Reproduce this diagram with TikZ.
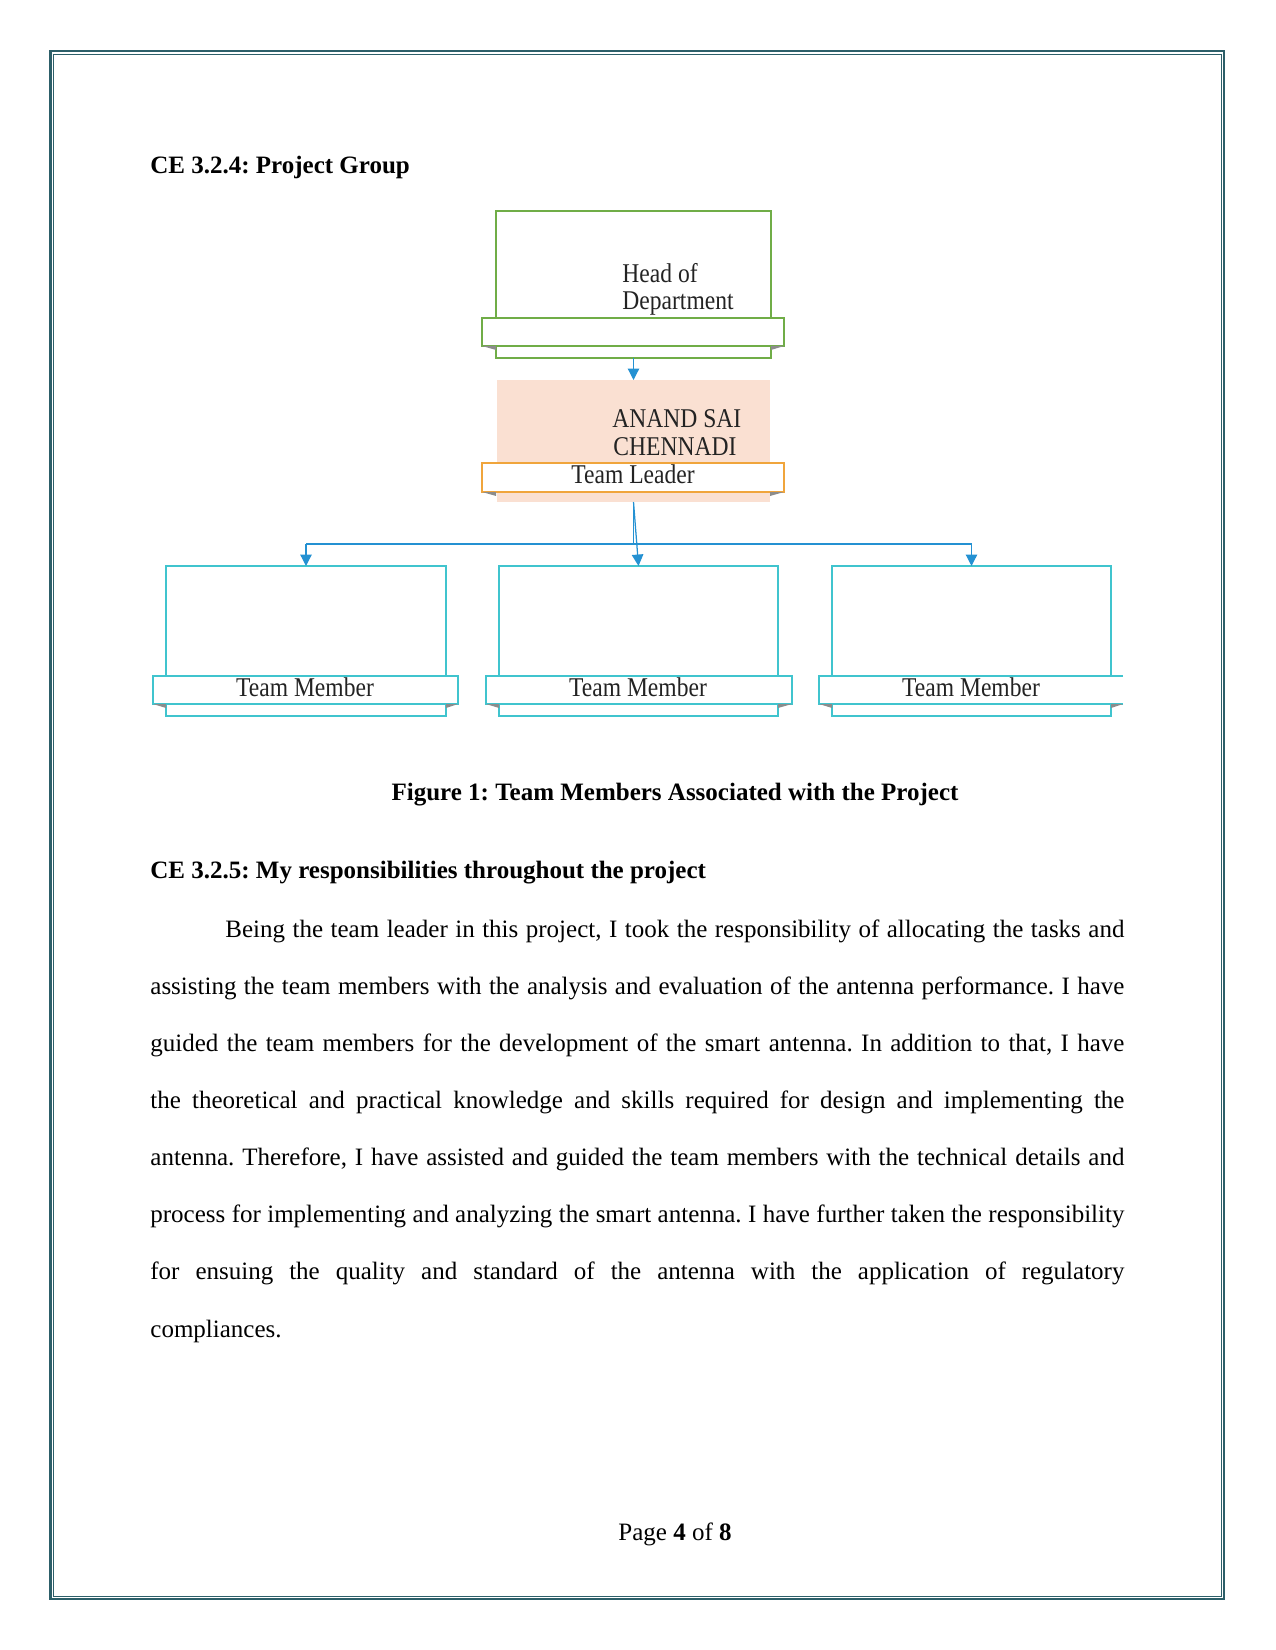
\documentclass[tikz,border=0pt]{standalone}
\usepackage{fontspec}
\setmainfont{Liberation Serif}
\newfontfamily\dgfont[FakeStretch=0.87]{Liberation Serif}
\usetikzlibrary{fit,arrows.meta,calc}
\definecolor{framecol}{RGB}{45,95,105}
\definecolor{hodgreen}{RGB}{112,173,71}
\definecolor{tlorange}{RGB}{240,165,60}
\definecolor{tlpeach}{RGB}{250,224,210}
\definecolor{tmcyan}{RGB}{64,196,206}
\definecolor{arrowblue}{RGB}{36,145,210}
\definecolor{dgtext}{RGB}{35,35,35}
\frenchspacing
\begin{document}
\begin{tikzpicture}[x=0.48pt,y=-0.48pt,
  box/.style={fit={#1}, inner sep=0pt, outer sep=0pt, line width=0.7pt},
  dgt/.style={font=\dgfont\fontsize{13}{13}\selectfont, text=dgtext, inner sep=0pt},
  para/.style={anchor=base west, inner sep=0pt, font=\fontsize{12}{14}\selectfont},
  head/.style={anchor=base west, inner sep=0pt, font=\fontsize{12}{14}\selectfont\bfseries},
  link/.style={draw=arrowblue, line width=0.6pt},
  arr/.style={link, -{Triangle[width=5.5pt,length=5.5pt]}},
  wedge/.style={fill=black!45, draw=none}
]
\useasboundingbox (0,0) rectangle (1275,1650);
% page frame
\draw[framecol, line width=1.1pt] (50.5,51) rectangle (1224,1599);
\draw[framecol, line width=0.45pt] (53.5,54) rectangle (1221,1596);

% headings
\node[head] (h1) at (150,174) {CE 3.2.4: Project Group};

% Head of Department
\node[box={(496,211) (771,318)}, draw=hodgreen] (hod) {};
\node[box={(496,346) (771,358)}, draw=hodgreen] (hodbase) {};
\node[box={(482,318) (784,346)}, draw=hodgreen, fill=white] (hodband) {};
\fill[wedge] (hodband.south west) -- (hodbase.north west) -- ($(hodbase.north west)+(0,4)$) -- cycle;
\fill[wedge] (hodband.south east) -- (hodbase.north east) -- ($(hodbase.north east)+(0,4)$) -- cycle;
\node[dgt, anchor=base west] (hodl1) at (622,283) {Head of};
\node[dgt, anchor=base west] (hodl2) at (622,310) {Department};

% Team leader
\node[box={(497,380) (770,502)}, fill=tlpeach] (tl) {};
\node[box={(482,463) (784,492)}, draw=tlorange, fill=white] (tlband) {};
\fill[wedge] (tlband.south west) -- ($(tlband.south west)+(14,0)$) -- ($(tlband.south west)+(14,4)$) -- cycle;
\fill[wedge] (tlband.south east) -- ($(tlband.south east)+(-14,0)$) -- ($(tlband.south east)+(-14,4)$) -- cycle;
\node[dgt, anchor=base west] (tll1) at (612,428) {ANAND SAI};
\node[dgt, anchor=base west] (tll2) at (613,455) {CHENNADI};
\node[dgt, anchor=base] (tlt) at (633,483) {Team Leader};

% Team members
\foreach \i/\l/\r in {1/166/446, 2/499/778, 3/832/1111}{
  \node[box={(\l,566) (\r,676)}, draw=tmcyan] (tm\i) {};
  \node[box={(\l,704) (\r,716)}, draw=tmcyan] (tmbase\i) {};
}
\node[box={(153,676) (458,704)}, draw=tmcyan, fill=white] (tmb1) {};
\node[box={(486,676) (792,704)}, draw=tmcyan, fill=white] (tmb2) {};
\node[box={(819,676) (1123,704)}, fill=white] (tmb3) {};
\draw[tmcyan, line width=0.7pt] (tmb3.north east) -- (tmb3.north west) -- (tmb3.south west) -- (tmb3.south east);
\foreach \i in {1,2,3}{
  \fill[wedge] (tmb\i.south west) -- (tmbase\i.north west) -- ($(tmbase\i.north west)+(0,4)$) -- cycle;
  \fill[wedge] (tmb\i.south east) -- (tmbase\i.north east) -- ($(tmbase\i.north east)+(0,4)$) -- cycle;
}
\node[dgt, anchor=base] (tmt1) at (305,696) {Team Member};
\node[dgt, anchor=base] (tmt2) at (638,696) {Team Member};
\node[dgt, anchor=base] (tmt3) at (971,696) {Team Member};

% connectors
\coordinate (bus) at (633,544);
\draw[arr] (hodbase.south) -- (tl.north);
\draw[link] (tl.south) -- (tl.south |- bus);
\draw[link] (tm1.north |- bus) -- (tm3.north |- bus);
\draw[arr] (tm1.north |- bus) -- (tm1.north);
\draw[arr] (tm3.north |- bus) -- (tm3.north);
\draw[arr] (tl.south) -- (tm2.north);

% caption and section
\node[anchor=base, inner sep=0pt, font=\fontsize{12}{14}\selectfont\bfseries] (cap) at (675,800) {Figure 1: Team Members Associated with the Project};
\node[head] (h2) at (150,878) {CE 3.2.5: My responsibilities throughout the project};

% paragraph
\node[para] (p1) at (225,937) {\makebox[431.52pt][s]{Being the team leader in this project, I took the responsibility of allocating the tasks and}};
\node[para] (p2) at (150,994.1) {\makebox[467.52pt][s]{assisting the team members with the analysis and evaluation of the antenna performance. I have}};
\node[para] (p3) at (150,1051.3) {\makebox[467.52pt][s]{guided the team members for the development of the smart antenna. In addition to that, I have}};
\node[para] (p4) at (150,1108.4) {\makebox[467.52pt][s]{the theoretical and practical knowledge and skills required for design and implementing the}};
\node[para] (p5) at (150,1165.6) {\makebox[467.52pt][s]{antenna. Therefore, I have assisted and guided the team members with the technical details and}};
\node[para] (p6) at (150,1222.7) {\makebox[467.52pt][s]{process for implementing and analyzing the smart antenna. I have further taken the responsibility}};
\node[para] (p7) at (150,1279.9) {\makebox[467.52pt][s]{for ensuing the quality and standard of the antenna with the application of regulatory}};
\node[para] (p8) at (150,1337) {compliances.};

% footer
\node[anchor=base, inner sep=0pt, font=\fontsize{12}{14}\selectfont] (foot) at (675,1540) {Page \textbf{4} of \textbf{8}};
\end{tikzpicture}
\end{document}
